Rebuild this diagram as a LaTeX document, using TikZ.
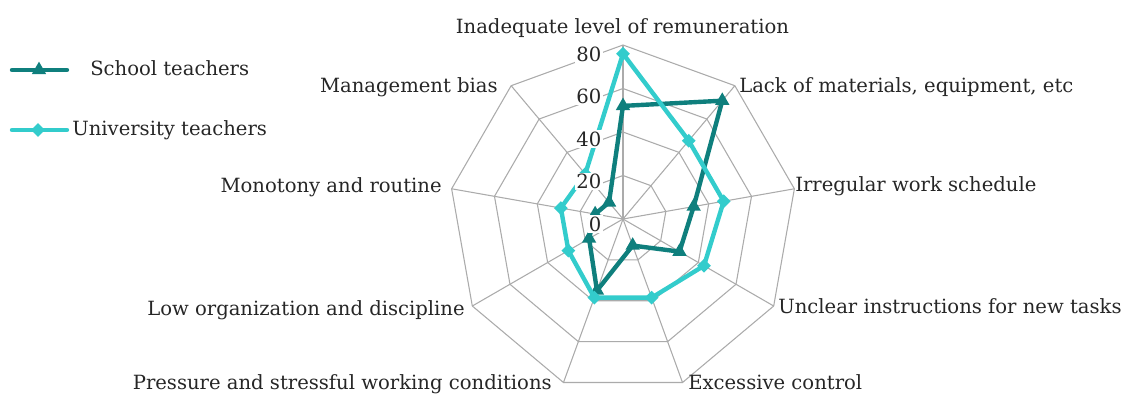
\documentclass[tikz,border=0pt]{standalone}
\usepackage{fontspec}
\setmainfont{DejaVu Serif}
\usepackage{xcolor}
\usepackage{tikz}
\usetikzlibrary{positioning, shapes.geometric}

\definecolor{schoolteal}{HTML}{0F7F7D}
\definecolor{unicyan}{HTML}{33CCCC}
\definecolor{gridgray}{HTML}{ABABAB}
\definecolor{textgray}{HTML}{262626}

\tikzset{
  gridline/.style={draw=gridgray, line width=0.8pt},
  schoolline/.style={draw=schoolteal, line width=3.3pt, line join=round},
  uniline/.style={draw=unicyan, line width=3.3pt, line join=round},
  schoolmark/.style={regular polygon, regular polygon sides=3, fill=schoolteal, inner sep=0pt, minimum size=12.5pt},
  unimark/.style={diamond, fill=unicyan, inner sep=0pt, minimum size=10.5pt},
  ticklabel/.style={anchor=base east, inner sep=1pt, fill=white, text=textgray},
  axislabel/.style={inner sep=0pt, text=textgray}
}

\begin{document}
\begin{tikzpicture}[x=0.75pt, y=0.75pt, font=\fontsize{14.7}{17}\selectfont]
\useasboundingbox (-623,-175) rectangle (500,219);

% Web of the chart
\foreach \r in {20,40,60,80} {
    \draw[gridline] (90:\r*2.175) \foreach \k in {1,...,8} { -- (90-40*\k:\r*2.175) } -- cycle;
}
\foreach \k in {0,...,8} {
    \draw[gridline] (0,0) -- (90-40*\k:174);
}

% Data points
\foreach \k/\v in {0/52, 1/71, 2/33, 3/30, 4/13, 5/35, 6/18, 7/13, 8/10} {
    \coordinate (s\k) at (90-40*\k:\v*2.175);
}
\foreach \k/\v in {0/76, 1/47, 2/47, 3/43, 4/38.5, 5/38.5, 6/29, 7/29, 8/27} {
    \coordinate (u\k) at (90-40*\k:\v*2.175);
}

% School teachers
\draw[schoolline] (s0) -- (s1) -- (s2) -- (s3) -- (s4) -- (s5) -- (s6) -- (s7) -- (s8) -- cycle;
\foreach \k in {0,...,8} {
    \node[schoolmark] (sm\k) at (s\k) {};
}

% University teachers
\draw[uniline] (u0) -- (u1) -- (u2) -- (u3) -- (u4) -- (u5) -- (u6) -- (u7) -- (u8) -- cycle;
\foreach \k in {0,...,8} {
    \node[unimark] (um\k) at (u\k) {};
}

% Scale values
\foreach \v in {0,20,40,60,80} {
    \node[ticklabel] (t\v) at (-20,{-12+\v*2.12}) {\v};
}

% Category labels
\node[axislabel, anchor=base] (cat0) at (-0.5,186) {Inadequate level of remuneration};
\node[axislabel, anchor=base west] (cat1) at (116,127) {Lack of materials, equipment, etc};
\node[axislabel, anchor=base west] (cat2) at (172,28) {Irregular work schedule};
\node[axislabel, anchor=base west] (cat3) at (155,-94) {Unclear instructions for new tasks};
\node[axislabel, anchor=base west] (cat4) at (65,-170) {Excessive control};
\node[axislabel, anchor=base east] (cat5) at (-71,-170) {Pressure and stressful working conditions};
\node[axislabel, anchor=base east] (cat6) at (-158,-96) {Low organization and discipline};
\node[axislabel, anchor=base east] (cat7) at (-181,27) {Monotony and routine};
\node[axislabel, anchor=base east] (cat8) at (-125,127) {Management bias};

% Legend
\coordinate (ls1) at (-611,149);
\coordinate (ls2) at (-556,149);
\draw[schoolline, line cap=round] (ls1) -- (ls2);
\node[schoolmark] (lsm) at (-584,149) {};
\node[axislabel, anchor=west] (lst) at (-533,151) {School teachers};

\coordinate (lu1) at (-611,89);
\coordinate (lu2) at (-556,89);
\draw[uniline, line cap=round] (lu1) -- (lu2);
\node[unimark] (lum) at (-585,89) {};
\node[axislabel, anchor=west] (lut) at (-551,89) {University teachers};

\end{tikzpicture}
\end{document}
